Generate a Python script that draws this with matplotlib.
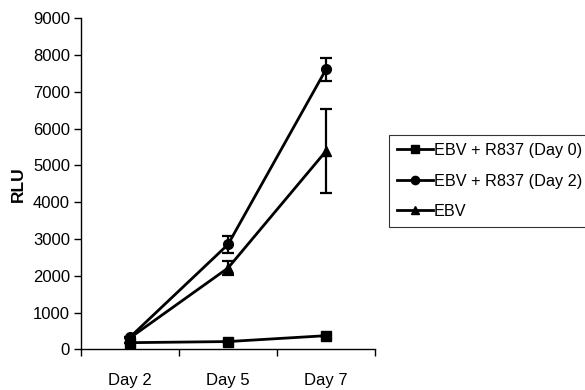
import matplotlib
matplotlib.use('Agg')
import matplotlib.pyplot as plt

plt.rcParams['font.family'] = ['Liberation Sans', 'DejaVu Sans']

# Data
days = ['Day 2', 'Day 5', 'Day 7']
labels = ['EBV + R837 (Day 0)', 'EBV + R837 (Day 2)', 'EBV']
markers = ['s', 'o', '^']

r837_day0 = [180, 210, 370]
r837_day0_err = [0, 0, 0]
r837_day2 = [330, 2850, 7610]
r837_day2_err = [0, 240, 310]
ebv = [310, 2210, 5390]
ebv_err = [0, 200, 1140]

series = [r837_day0, r837_day2, ebv]
errors = [r837_day0_err, r837_day2_err, ebv_err]

fig = plt.figure(figsize=(5.85, 3.9), dpi=100)
ax = fig.add_axes([0.1385, 0.1044, 0.5025, 0.8486])

x = list(range(len(days)))
for vals, errs, mk, lab in zip(series, errors, markers, labels):
    ax.errorbar(x, vals, yerr=errs, color='black', marker=mk, markersize=7,
                linewidth=2, elinewidth=1.6, capsize=4, capthick=1.6, label=lab)

ax.set_xlim(-0.5, 2.5)
ax.set_ylim(0, 9000)
ax.set_yticks(range(0, 9001, 1000))
# category boundaries carry the tick marks, names sit between them
ax.set_xticks([-0.5, 0.5, 1.5, 2.5])
ax.set_xticklabels([])
ax.set_xticks(x, minor=True)
ax.set_xticklabels(days, minor=True)
ax.tick_params(axis='x', which='minor', length=0, pad=17, labelsize=12)
ax.tick_params(axis='x', which='major', length=5, direction='out', width=1)
ax.tick_params(axis='y', length=5, width=1, labelsize=12, pad=3)

for s in ['top', 'right']:
    ax.spines[s].set_visible(False)
for s in ['left', 'bottom']:
    ax.spines[s].set_linewidth(1)

ax.set_ylabel('RLU', fontsize=12.5, fontweight='bold', labelpad=5)

handles, labs = ax.get_legend_handles_labels()
handles = [h[0] for h in handles]
leg = fig.legend(handles, labs, loc='upper left', bbox_to_anchor=(0.665, 0.654),
                 frameon=True, fancybox=False, edgecolor='black', fontsize=11.7,
                 handlelength=2.2, handletextpad=0.05, borderpad=0.5,
                 borderaxespad=0, labelspacing=0.95, markerscale=0.85)
leg.get_frame().set_linewidth(0.8)

fig.savefig('out.png', dpi=100)
